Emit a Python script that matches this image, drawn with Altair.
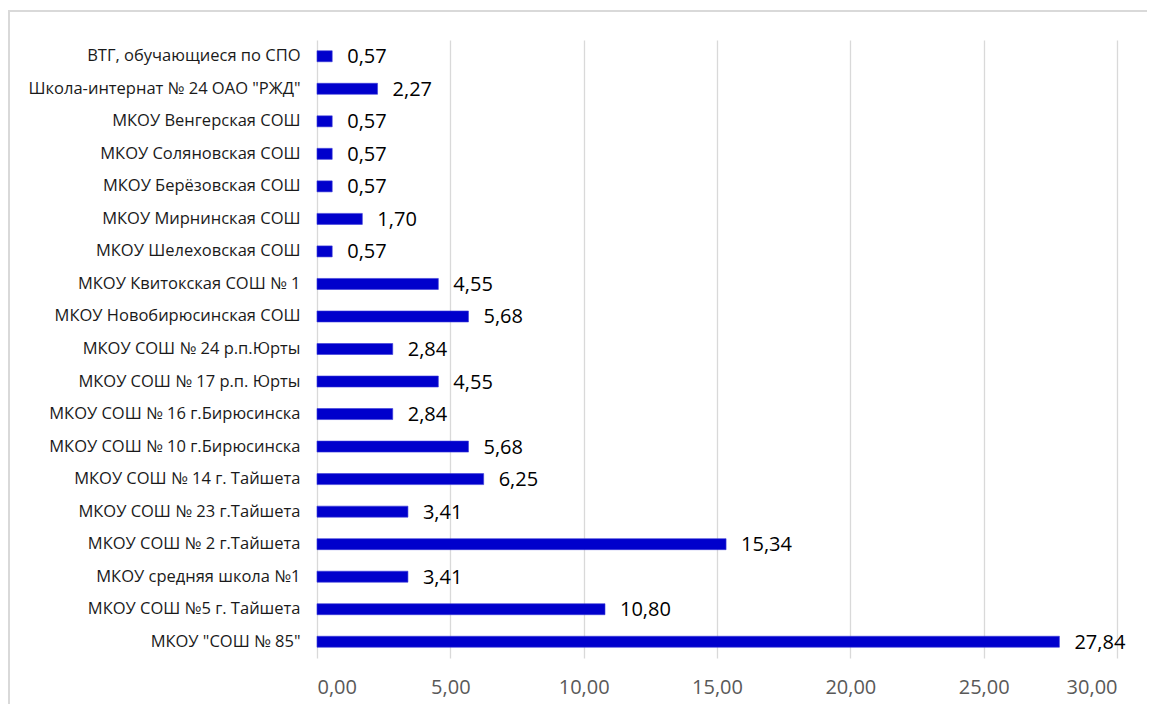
import altair as alt
import pandas as pd

categories = [
    "ВТГ, обучающиеся по СПО",
    "Школа-интернат № 24 ОАО \"РЖД\"",
    "МКОУ Венгерская СОШ",
    "МКОУ Соляновская СОШ",
    "МКОУ Берёзовская СОШ",
    "МКОУ Мирнинская СОШ",
    "МКОУ Шелеховская СОШ",
    "МКОУ Квитокская СОШ № 1",
    "МКОУ Новобирюсинская СОШ\u00a0\u00a0",
    "МКОУ СОШ № 24 р.п.Юрты",
    "МКОУ СОШ № 17 р.п. Юрты",
    "МКОУ СОШ № 16 г.Бирюсинска",
    "МКОУ СОШ № 10 г.Бирюсинска",
    "МКОУ СОШ № 14 г. Тайшета",
    "МКОУ СОШ № 23 г.Тайшета",
    "МКОУ СОШ № 2 г.Тайшета",
    "МКОУ средняя школа №1",
    "МКОУ СОШ №5 г. Тайшета",
    "МКОУ \"СОШ № 85\"\u00a0",
]
values = [0.57, 2.27, 0.57, 0.57, 0.57, 1.70, 0.57, 4.55, 5.68, 2.84,
          4.55, 2.84, 5.68, 6.25, 3.41, 15.34, 3.41, 10.80, 27.84]

df = pd.DataFrame({
    "cat": categories,
    "val": values,
    "lbl": [f"{v:.2f}".replace(".", ",") for v in values],
})

FONT = "Open Sans"

y_enc = alt.Y("cat:N", sort=categories, title=None,
              scale=alt.Scale(paddingInner=0.66, paddingOuter=0.33),
              axis=alt.Axis(labelFont=FONT, labelFontSize=16.5, labelColor="#1a1a1a",
                            labelPadding=17, ticks=False, domain=False, grid=False,
                            labelLimit=400))
x_enc = alt.X("val:Q", title=None,
              scale=alt.Scale(domain=[0, 30], nice=False, zero=True),
              axis=alt.Axis(values=[0, 5, 10, 15, 20, 25, 30],
                            labelExpr="replace(format(datum.value, '.2f'), '.', ',')",
                            labelFont=FONT, labelFontSize=20, labelColor="#595959",
                            labelPadding=19, ticks=False, domain=False,
                            grid=True, gridColor="#d9d9d9", gridWidth=1.3))

bars = alt.Chart(df).mark_bar(color="#0000CC", size=11, stroke="#3a3ad9",
                              strokeWidth=0.6).encode(x=x_enc, y=y_enc)

texts = alt.Chart(df).mark_text(align="left", baseline="middle", dx=15, dy=1,
                                font=FONT, fontSize=20, color="#000000").encode(
    x="val:Q", y=alt.Y("cat:N", sort=categories), text="lbl:N")

border = alt.Chart(pd.DataFrame({"a": [0]})).mark_rect(
    fill=None, stroke="#d9d9d9", strokeWidth=2, clip=False).encode(
    x=alt.value(-308), x2=alt.value(900), y=alt.value(-29), y2=alt.value(700))

chart = alt.layer(border, bars, texts).properties(
    width=800, height=618,
    autosize=alt.AutoSizeParams(type="none"),
    padding={"left": 309, "top": 32, "right": 30, "bottom": 46},
).configure_view(stroke=None)

chart.save("out.html", embed_options={"renderer": "svg", "actions": False})
